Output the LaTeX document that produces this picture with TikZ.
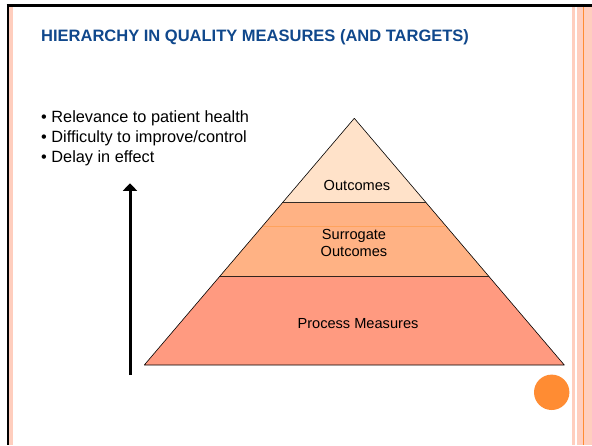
\documentclass[tikz,border=0pt]{standalone}
\usepackage{fontspec}
\setmainfont{Liberation Sans}
\usetikzlibrary{arrows.meta}

\definecolor{titleblue}{RGB}{16,72,140}
\definecolor{tiertop}{RGB}{255,226,201}
\definecolor{tiermid}{RGB}{255,178,132}
\definecolor{tierlow}{RGB}{255,154,128}
\definecolor{stripe}{RGB}{255,206,190}
\definecolor{dotorange}{RGB}{255,140,51}

\tikzset{
  tier/.style={draw=black,line width=0.6pt,line join=round},
  item/.style={anchor=base west,inner sep=0pt,font=\fontsize{16.3}{20}\selectfont},
  label/.style={anchor=base,inner sep=0pt,align=center,
                font=\fontsize{14.6}{17.4}\selectfont}
}

\begin{document}
\begin{tikzpicture}[x=1pt,y=-1pt]
    \useasboundingbox[fill=white] (0,0) rectangle (592,445);

    % slide frame
    \fill[stripe] (9.3,7) rectangle (13.3,445);
    \fill[stripe] (572,7) rectangle (574.7,445);
    \fill[stripe] (577.3,7) rectangle (592,445);
    \draw[dotorange,line width=1pt] (583.2,7) -- (583.2,445);
    \draw[line width=2.5pt] (7.8,4.5) -- (7.8,445);
    \draw[line width=2.5pt] (6.6,5.7) -- (592,5.7);

    % heading
    \node[anchor=base west,inner sep=0pt,text=titleblue,
          font=\fontsize{16.5}{20}\selectfont\bfseries] (title) at (41,41.5)
          {HIERARCHY IN QUALITY MEASURES (AND TARGETS)};

    % criteria list
    \node[item] (rel) at (41,122.7) {\textbullet\ Relevance to patient health};
    \node[item] (dif) at ([yshift=-20pt]rel.base west) {\textbullet\ Difficulty to improve/control};
    \node[item] (del) at ([yshift=-20pt]dif.base west) {\textbullet\ Delay in effect};

    % pyramid corners
    \coordinate (apex) at (354.3,118.3);
    \coordinate (t1l)  at (282.8,202.3);
    \coordinate (t1r)  at (425.8,202.3);
    \coordinate (sl)   at (262.6,226);
    \coordinate (sr)   at (446,226);
    \coordinate (t2l)  at (219.8,276.3);
    \coordinate (t2r)  at (488.8,276.3);
    \coordinate (bl)   at (144.3,365);
    \coordinate (br)   at (564.3,365);

    \filldraw[tier,fill=tierlow] (t2l) -- (t2r) -- (br) -- (bl) -- cycle;
    \filldraw[tier,fill=tiermid] (t1l) -- (t1r) -- (t2r) -- (t2l) -- cycle;
    \draw[dotorange!80,line width=0.6pt] (sl) -- (sr);
    \filldraw[tier,fill=tiertop] (apex) -- (t1r) -- (t1l) -- cycle;

    \node[label] (out)  at (357,190)   {Outcomes};
    \node[label] (sur)  at (354,256.7) {Surrogate\\Outcomes};
    \node[label] (proc) at (358,328)   {Process Measures};

    % upward arrow
    \coordinate (low)  at (130,375);
    \coordinate (high) at (130,183.3);
    \draw[line width=3pt,-{Triangle[width=14pt,length=7.5pt]}] (low) -- (high);

    % corner dot
    \fill[dotorange] (551.7,392.3) circle (17.7);
\end{tikzpicture}
\end{document}
